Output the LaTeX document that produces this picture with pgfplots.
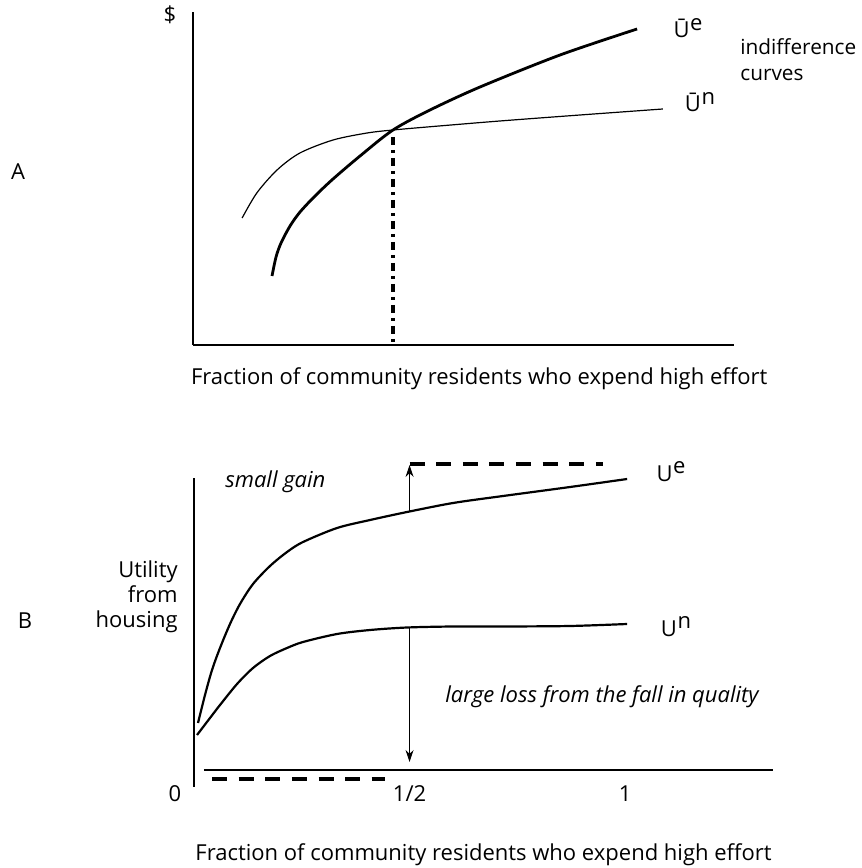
\documentclass[border=0pt]{standalone}
\usepackage{pgfplots}
\pgfplotsset{compat=1.18}
\usepackage{fontspec}
\setmainfont{Open Sans}
\usetikzlibrary{arrows.meta}

\begin{document}
\begin{tikzpicture}[font=\fontsize{11}{13}\selectfont]
\useasboundingbox (0,0) rectangle (431pt,434pt);

% ---- panel A: indifference curves
\begin{axis}[
  at={(96.5pt,261.5pt)}, anchor=south west,
  scale only axis, width=270.5pt, height=166.5pt,
  xmin=0, xmax=1.255, ymin=0, ymax=3.33,
  axis lines=left, axis line style={-, line width=0.6pt},
  xtick=\empty, ytick=\empty,
  clip=false,
  xlabel={Fraction of community residents who expend high effort},
  xlabel style={at={(axis description cs:0.529,-0.10)}, anchor=center},
]
% U-bar e (thick)
\addplot[line width=1.4pt, smooth, tension=0.5] coordinates {
  (0.1833,0.69) (0.1926,0.88) (0.2042,1.02) (0.2251,1.19) (0.2483,1.33)
  (0.2831,1.49) (0.3248,1.66) (0.3875,1.89) (0.4640,2.15) (0.5499,2.35)
  (0.6659,2.58) (0.8515,2.90) (1.0302,3.16)
};
% U-bar n (thin)
\addplot[line width=0.6pt, smooth, tension=0.5] coordinates {
  (0.114,1.27) (0.148,1.52) (0.195,1.75) (0.248,1.92) (0.325,2.05)
  (0.404,2.12) (0.464,2.15) (0.557,2.185) (0.712,2.24) (0.898,2.30)
  (1.090,2.36)
};
% equilibrium share
\addplot[line width=1.6pt, dash pattern=on 4pt off 2.5pt on 1.5pt off 2.5pt]
  coordinates {(0.464,2.08) (0.464,0)};
\end{axis}

% ---- panel B: utility from housing
\begin{axis}[
  at={(97pt,40.5pt)}, anchor=south west,
  scale only axis, width=289.5pt, height=168.5pt,
  xmin=0, xmax=1.343, ymin=-0.17, ymax=3.2,
  axis line style={draw=none},
  xtick={0.5,1}, xticklabels={1/2,1}, ytick=\empty,
  major tick length=0pt,
  xticklabel style={anchor=base, yshift=-7.5pt},
  clip=false,
  xlabel={Fraction of community residents who expend high effort},
  xlabel style={at={(axis description cs:0.5,-0.20)}, anchor=center},
]
\addplot[line width=0.6pt] coordinates {(0,-0.17) (0,2.92)};
\addplot[line width=0.6pt] coordinates {(0.023,0) (1.343,0)};
% U e
\addplot[line width=1.1pt, smooth, tension=0.5] coordinates {
  (0.0093,0.47) (0.0255,0.75) (0.0418,1.00) (0.0603,1.22) (0.0835,1.46)
  (0.1067,1.66) (0.1369,1.86) (0.1763,2.04) (0.2158,2.18) (0.2529,2.28)
  (0.3318,2.42) (0.4084,2.50) (0.4942,2.58) (0.6009,2.67) (0.7169,2.74)
  (0.8724,2.83) (1.0046,2.91)
};
% U n
\addplot[line width=1.1pt, smooth, tension=0.5] coordinates {
  (0.0070,0.35) (0.0371,0.52) (0.0603,0.65) (0.0998,0.86) (0.1369,1.02)
  (0.1763,1.14) (0.2158,1.22) (0.2529,1.28) (0.3318,1.36) (0.4084,1.40)
  (0.4942,1.425) (0.6009,1.435) (0.7169,1.435) (0.8724,1.44) (1.0046,1.46)
};
% gain and loss arrows
\addplot[line width=0.5pt, -{Stealth[length=6pt,width=4pt]}]
  coordinates {(0.5,2.58) (0.5,3.05)};
\addplot[line width=0.5pt, -{Stealth[length=6pt,width=4pt]}]
  coordinates {(0.5,1.43) (0.5,0.08)};
\addplot[line width=2.2pt, dash pattern=on 7.5pt off 5.8pt]
  coordinates {(0.50,3.06) (0.949,3.06)};
\addplot[line width=2.2pt, dash pattern=on 7.5pt off 5.8pt]
  coordinates {(0.042,-0.09) (0.443,-0.09)};
\end{axis}

% ---- text, positioned in reference pixels
\begin{scope}[shift={(0pt,434pt)}, x=0.5pt, y=-0.5pt, every node/.style={inner sep=0pt}]
\node[anchor=base] at (170,23) {\$};
\node[anchor=base] at (18,180) {A};
\node[anchor=base] at (25,629) {B};
\node[anchor=base] at (688,38) {Ū\kern0.3pt\raisebox{3.5pt}{e}};
\node[anchor=base] at (700,112) {Ū\kern0.3pt\raisebox{3.5pt}{n}};
\node[anchor=base west, font=\fontsize{10.4}{12}\selectfont] at (740,55) {indifference};
\node[anchor=base west, font=\fontsize{10.4}{12}\selectfont] at (740,81) {curves};
\node[anchor=base] at (671,482) {U\kern0.3pt\raisebox{4pt}{e}};
\node[anchor=base] at (676,637) {U\kern0.3pt\raisebox{4pt}{n}};
\node[anchor=base west] at (225,488) {\itshape small gain};
\node[anchor=base west] at (445,703) {\itshape large loss from the fall in quality};
\node[anchor=base east] at (178,578) {Utility};
\node[anchor=base east] at (178,603) {from};
\node[anchor=base east] at (178,628) {housing};
\node[anchor=base] at (175,802) {0};
\end{scope}
\end{tikzpicture}
\end{document}
